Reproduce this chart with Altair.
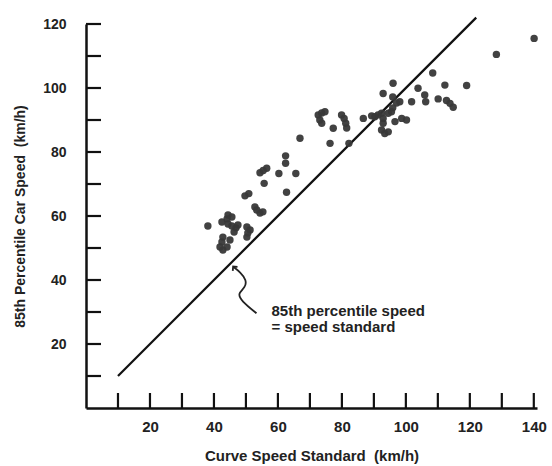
import altair as alt
import pandas as pd

# Scatter data (km/h)
curve_std = [140.1, 128.3, 119.0, 112.2, 108.4, 103.8, 105.9, 106.2, 110.1, 112.7,
             113.8, 114.8, 101.8, 98.1, 96.0, 92.9, 95.9, 97.1, 95.9, 95.5,
             94.5, 92.4, 91.3, 90.3, 92.9, 98.7, 100.2, 96.6, 92.9, 92.4,
             93.4, 94.5, 86.7, 89.3,
             72.6, 73.7, 74.7, 73.1, 73.7, 79.9, 80.7, 81.2, 81.5, 77.3,
             66.9, 76.3, 82.2,
             62.4, 62.4, 54.4, 55.4, 56.5, 60.3, 65.6, 55.7, 62.7, 49.7, 50.9,
             52.8, 53.4, 54.4, 55.3, 38.1, 42.5, 44.4, 45.6, 44.1, 44.4,
             45.6, 46.9, 47.5, 50.3, 51.3, 50.6, 50.3, 42.8, 42.5, 41.9,
             42.8, 44.1, 45.0, 46.3]
car_speed = [115.5, 110.5, 100.8, 100.9, 104.7, 99.9, 97.8, 95.7, 96.6, 96.1,
             95.2, 94.0, 95.7, 95.7, 101.5, 98.3, 97.2, 95.3, 93.8, 92.6,
             92.1, 92.1, 91.6, 91.0, 90.5, 90.5, 90.0, 89.5, 89.0, 86.9,
             85.8, 86.3, 90.5, 91.3,
             91.6, 92.2, 92.6, 90.0, 89.0, 91.6, 90.5, 89.0, 87.5, 87.4,
             84.3, 82.7, 82.7,
             78.8, 76.5, 73.5, 74.2, 74.9, 73.3, 73.3, 70.2, 67.4, 66.3, 67.0,
             62.8, 61.9, 60.9, 61.3, 56.9, 58.1, 60.3, 59.7, 59.1, 57.5,
             56.9, 56.3, 57.2, 56.6, 55.6, 54.7, 53.4, 53.4, 51.9, 50.3,
             49.4, 50.3, 52.5, 55.0]

# Equality line: 85th percentile speed = speed standard
line_x = [10, 122]
line_y = [10, 122]

# Annotation arrow path (data units)
arrow_x = [53.3, 48.6, 47.4, 49.8, 50.2, 48.2, 46.2]
arrow_y = [29.6, 33.4, 35.8, 37.6, 40.0, 42.5, 44.0]
arrow_tip_x = [46.0]
arrow_tip_y = [44.2]

note_lines = ["85th percentile speed", "= speed standard"]
note_x = [58.0, 58.0]
note_y = [30.3, 25.3]

x_ticks = list(range(10, 141, 10))
y_ticks = list(range(10, 121, 10))

W, H = 451, 384
xs = alt.Scale(domain=[0, 141], nice=False)
ys = alt.Scale(domain=[0, 120], nice=False)

FONT = "Liberation Sans"

pts = pd.DataFrame({"x": curve_std, "y": car_speed})
ln = pd.DataFrame({"x": line_x, "y": line_y})
arr = pd.DataFrame({"x": arrow_x, "y": arrow_y, "o": list(range(len(arrow_x)))})
tip = pd.DataFrame({"x": arrow_tip_x, "y": arrow_tip_y})
notes = pd.DataFrame({"x": note_x, "y": note_y, "t": note_lines})
xt = pd.DataFrame({"v": x_ticks})
yt = pd.DataFrame({"v": y_ticks})

x_axis = alt.Axis(values=list(range(0, 141, 10)),
                  labelExpr="datum.value % 20 == 0 && datum.value > 0 ? datum.label : ''",
                  tickSize=0, domainWidth=2.5, domainColor="#111", grid=False,
                  labelFont=FONT, labelFontSize=15, labelFontWeight="bold", labelColor="#222",
                  labelPadding=11, title="Curve Speed Standard\u00a0 (km/h)",
                  titleFont=FONT, titleFontSize=15, titleFontWeight="bold", titleColor="#222",
                  titlePadding=14)
y_axis = alt.Axis(values=list(range(0, 121, 10)),
                  labelExpr="datum.value % 20 == 0 && datum.value > 0 ? datum.label : ''",
                  tickSize=0, domainWidth=2.5, domainColor="#111", grid=False,
                  labelFont=FONT, labelFontSize=14, labelFontWeight="bold", labelColor="#222",
                  labelPadding=20, title="85th Percentile Car Speed\u00a0 (km/h)",
                  titleFont=FONT, titleFontSize=14, titleFontWeight="bold", titleColor="#222",
                  titlePadding=15)

scatter = alt.Chart(pts).mark_circle(size=55, color="#383838", opacity=0.95).encode(
    x=alt.X("x:Q", scale=xs, axis=x_axis),
    y=alt.Y("y:Q", scale=ys, axis=y_axis),
)

eq_line = alt.Chart(ln).mark_line(color="#111", strokeWidth=2.2, clip=False).encode(
    x=alt.X("x:Q", scale=xs), y=alt.Y("y:Q", scale=ys))

xtick = alt.Chart(xt).mark_rule(color="#111", strokeWidth=2.2).encode(
    x=alt.X("v:Q", scale=xs), y=alt.value(H), y2=alt.value(H - 15))
ytick = alt.Chart(yt).mark_rule(color="#111", strokeWidth=2.2).encode(
    y=alt.Y("v:Q", scale=ys), x=alt.value(0), x2=alt.value(15))

arrow = alt.Chart(arr).mark_line(color="#222", strokeWidth=1.8, interpolate="basis").encode(
    x=alt.X("x:Q", scale=xs), y=alt.Y("y:Q", scale=ys), order="o:Q")
arrow_head = alt.Chart(tip).mark_point(shape="M -0.8 0.8 L 0 0 L 0.8 0.8", filled=False,
                                        color="#222", strokeWidth=1.8, size=60, angle=320,
                                        opacity=1).encode(
    x=alt.X("x:Q", scale=xs), y=alt.Y("y:Q", scale=ys))

note = alt.Chart(notes).mark_text(align="left", baseline="middle", font=FONT,
                                  fontSize=15, fontWeight="bold", color="#222").encode(
    x=alt.X("x:Q", scale=xs), y=alt.Y("y:Q", scale=ys), text="t:N")

chart = alt.layer(eq_line, xtick, ytick, scatter, arrow, arrow_head, note).properties(
    width=W, height=H,
    padding={"left": 86, "top": 24, "right": 15, "bottom": 58},
    autosize="none",
    background="white",
).configure_view(stroke=None)

chart.save("out.html", embed_options={"renderer": "svg", "actions": False})
